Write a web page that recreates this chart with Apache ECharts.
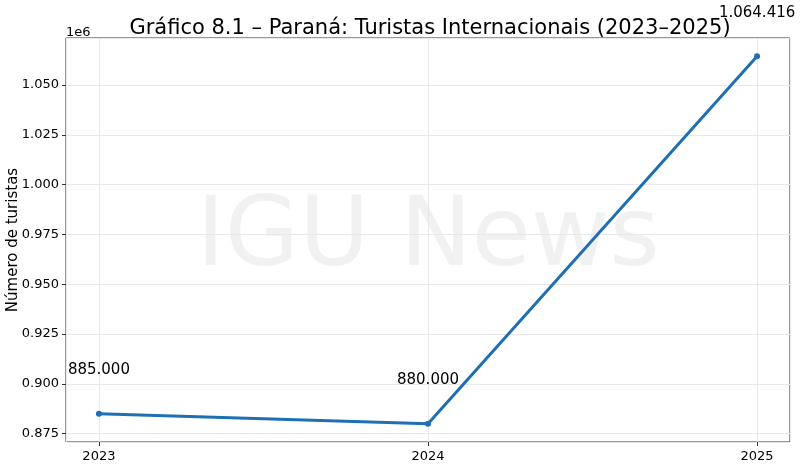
<!DOCTYPE html>
<html>
<head>
<meta charset="utf-8">
<script src="https://cdn.jsdelivr.net/npm/echarts@6/dist/echarts.min.js"></script>
<style>
  html, body { margin: 0; padding: 0; background: #fff; }
  #chart { width: 800px; height: 467px; }
</style>
</head>
<body>
<div id="chart"></div>
<script>
// dados
const years = [2023, 2024, 2025]
const turistas = [885000, 880000, 1064416]
const yTicks = [875000, 900000, 925000, 950000, 975000, 1000000, 1025000, 1050000]

const font = "DejaVu Sans"

// rótulo no formato brasileiro: 885.000
const fmtBR = (v) => String(Math.round(v)).replace(/\B(?=(\d{3})+(?!\d))/g, ".")

const chart = echarts.init(document.getElementById("chart"))

chart.setOption({
  animation: false,
  backgroundColor: "#ffffff",
  title: {
    text: "Gráfico 8.1 – Paraná: Turistas Internacionais (2023–2025)",
    left: 425,
    textAlign: "center",
    top: 13,
    textStyle: { fontFamily: font, fontSize: 21, fontWeight: "normal", color: "#000" }
  },
  graphic: [
    {
      type: "text",
      left: 66,
      top: 26,
      z: 10,
      style: { text: "1e6", font: "13px " + font, fill: "#000" }
    },
    {
      type: "text",
      x: 428,
      y: 240,
      z: -1,
      style: {
        text: "IGU News",
        font: "96px " + font,
        fill: "#f1f1f1",
        align: "center",
        verticalAlign: "middle"
      }
    }
  ],
  grid: {
    left: 66,
    right: 10,
    top: 38,
    bottom: 25,
    outerBoundsMode: "none",
    containLabel: false,
    show: true,
    borderColor: "#333",
    borderWidth: 1,
    backgroundColor: "transparent"
  },
  xAxis: {
    type: "value",
    min: 2022.9,
    max: 2025.1,
    minInterval: 1,
    maxInterval: 1,
    axisLine: { show: false },
    axisTick: { show: true, length: 4, lineStyle: { color: "#333" } },
    axisLabel: {
      fontFamily: font,
      fontSize: 13,
      color: "#000",
      margin: 8,
      showMinLabel: false,
      showMaxLabel: false,
      formatter: (v) => (years.includes(Math.round(v * 1000) / 1000) ? String(v) : "")
    },
    splitLine: { show: true, lineStyle: { color: "#e8e8e8", width: 1 } }
  },
  yAxis: {
    type: "value",
    min: 870779,
    max: 1073637,
    minInterval: 25000,
    maxInterval: 25000,
    name: "Número de turistas",
    nameLocation: "middle",
    nameGap: 45,
    nameMoveOverlap: false,
    nameTextStyle: { fontFamily: font, fontSize: 15, color: "#000" },
    axisLine: { show: false },
    axisTick: { show: true, length: 4, lineStyle: { color: "#333" } },
    axisLabel: {
      fontFamily: font,
      fontSize: 13,
      color: "#000",
      margin: 7,
      showMinLabel: false,
      showMaxLabel: false,
      formatter: (v) => (yTicks.includes(v) ? (v / 1e6).toFixed(3) : "")
    },
    splitLine: { show: true, lineStyle: { color: "#e8e8e8", width: 1 } }
  },
  series: [
    {
      type: "line",
      data: years.map((y, i) => [y, turistas[i]]),
      symbol: "circle",
      symbolSize: 6,
      lineStyle: { color: "#1f6fb2", width: 3 },
      itemStyle: { color: "#1f6fb2" },
      label: {
        show: true,
        position: "top",
        distance: 33,
        fontFamily: font,
        fontSize: 15,
        color: "#000",
        formatter: (p) => fmtBR(p.value[1])
      }
    }
  ]
})
</script>
</body>
</html>
